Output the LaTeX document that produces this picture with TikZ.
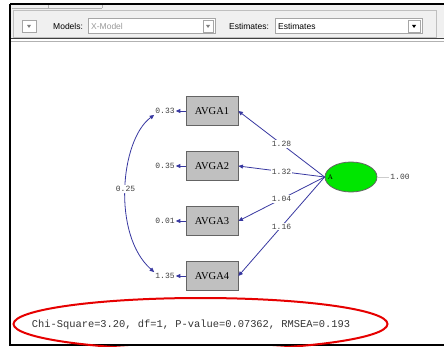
\documentclass[tikz,border=0pt]{standalone}
\usepackage{fontspec}
\setmainfont{Liberation Serif}
\newfontfamily\numfont{Liberation Mono}
\newfontfamily\uifont{Liberation Sans}
\usepackage{tikz}
\usetikzlibrary{arrows.meta, positioning, calc, shapes}
\usepackage{xcolor}
\definecolor{pathblue}{RGB}{55,55,160}
\definecolor{boxgray}{RGB}{192,192,192}
\definecolor{boxedge}{RGB}{100,100,100}
\definecolor{latgreen}{RGB}{0,230,0}
\definecolor{toolgray}{RGB}{240,240,240}
\definecolor{markred}{RGB}{230,0,0}

\begin{document}
\begin{tikzpicture}[x=1pt, y=-1pt,
  obsbox/.style={draw=boxedge, fill=boxgray, line width=0.8pt, minimum width=52pt, minimum height=29pt, inner sep=0pt, font=\fontsize{10.5}{12}\selectfont},
  latent/.style={ellipse, draw=boxedge, fill=latgreen, line width=0.8pt, minimum width=52pt, minimum height=30pt, inner sep=0pt},
  numlbl/.style={font=\numfont\fontsize{8}{9}\selectfont, text=black!75, inner sep=1pt},
  loadlbl/.style={numlbl, fill=white},
  loadarrow/.style={pathblue, line width=0.8pt, -{Triangle[length=4.5pt, width=4pt]}},
  covarrow/.style={pathblue, line width=0.8pt, {Triangle[length=4.5pt, width=4pt]}-{Triangle[length=4.5pt, width=4pt]}},
  uitext/.style={font=\uifont\fontsize{8.5}{10}\selectfont, inner sep=0pt, anchor=west}]
  \useasboundingbox (0,0) rectangle (444,347);
  % window and toolbar
  \fill[toolgray] (10,5) rectangle (444,39);
  \draw[gray!60] (12,8) -- (102,8) (48,4) -- (48,8) (102,4) -- (102,8);
  \draw[gray!50] (13,10) rectangle (436,37);
  \draw[black!75, line width=1pt] (10,38.5) -- (444,38.5);
  \draw[gray!60] (10,41.5) -- (444,41.5);
  \draw[line width=1.5pt] (10,4) -- (444,4);
  \draw[line width=1.2pt] (10,4) -- (10,345) -- (444,345);
  \draw[gray!70, fill=white] (22,20) rectangle (36,32);
  \fill[gray] (27,25) -- (31,25) -- (29,28) -- cycle;
  \node[uitext] (models) at (53,26) {Models:};
  \draw[gray!70, fill=white] (88,18) rectangle (215,33);
  \node[uitext, text=gray!80] (modeltxt) at (91,26) {X-Model};
  \draw[gray!70, fill=white] (203,20) rectangle (213,32);
  \fill[gray] (206,25) -- (210,25) -- (208,28) -- cycle;
  \node[uitext] (estim) at (229,26) {Estimates:};
  \draw[gray!70, fill=white] (275,18) rectangle (422,33);
  \node[uitext] (estimtxt) at (278,26) {Estimates};
  \draw[gray!70, fill=white] (408,20) rectangle (420,32);
  \fill[black] (412,25) -- (416,25) -- (414,28) -- cycle;
  % path diagram
  \node[latent, label={[anchor=west, inner sep=3pt, font=\fontsize{7}{8}\selectfont]west:A}] (lat) at (351,177) {};
  \node[numlbl] (var) at (400,177) {1.00};
  \draw[gray!40, line width=0.8pt] (lat.east) -- (var.west);
  \foreach \i/\y/\e/\l in {1/111/0.33/1.28, 2/166/0.35/1.32, 3/221/0.01/1.04, 4/276/1.35/1.16} {
    \node[obsbox] (v\i) at (212,\y) {AVGA\i};
    \node[numlbl] (e\i) at (165,\y) {\e};
    \draw[loadarrow] (v\i.west) -- (e\i.east);
    \draw[loadarrow] (lat.west) -- node[loadlbl] {\l} (v\i.east);
  }
  \draw[covarrow] (e1.south west) .. controls (120,140) and (112,235) .. node[loadlbl] {0.25} (e4.north west);
  % fit statistics
  \node[font=\numfont\fontsize{10.4}{12}\selectfont, text=black!80, inner sep=0pt] (fit) at (191,325) {Chi-Square=3.20, df=1, P-value=0.07362, RMSEA=0.193};
  \draw[markred, line width=2pt] (200.5,324) ellipse (187pt and 26pt);
\end{tikzpicture}
\end{document}
